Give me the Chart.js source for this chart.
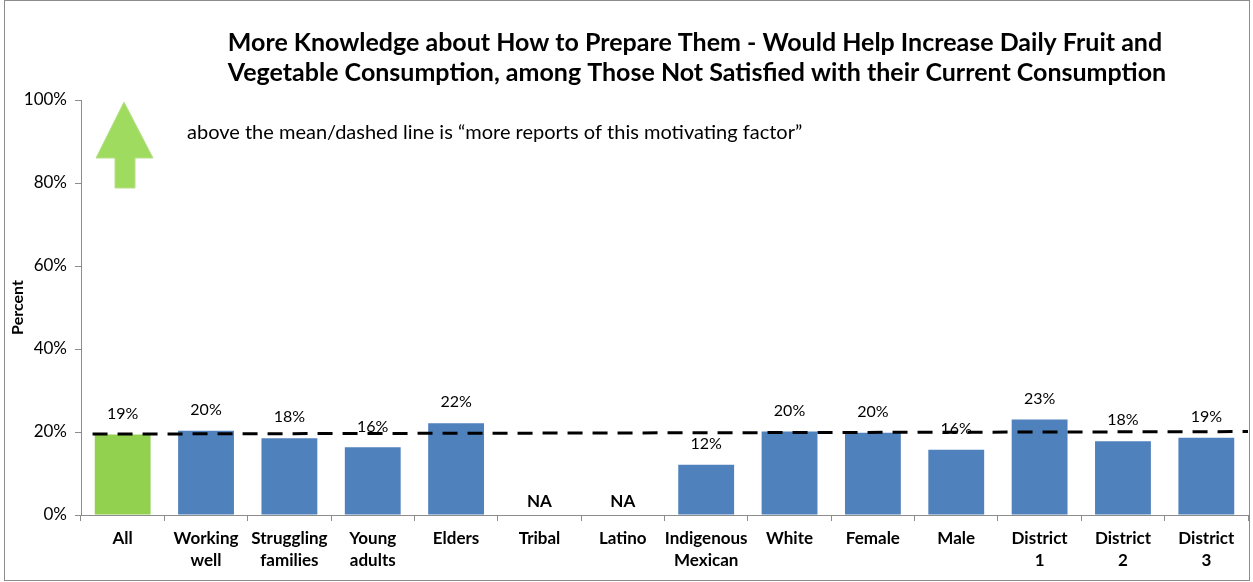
<!DOCTYPE html>
<html>
<head>
<meta charset="utf-8">
<script src="https://cdn.jsdelivr.net/npm/chart.js@4.4.1/dist/chart.umd.min.js"></script>
<style>
html, body { margin: 0; padding: 0; background: #fff; }
canvas { display: block; }
</style>
</head>
<body>
<canvas id="myChart" width="1253" height="582"></canvas>
<script>
'use strict'
let groups = [['All'], ['Working', 'well'], ['Struggling', 'families'], ['Young', 'adults'], ['Elders'], ['Tribal'], ['Latino'],
  ['Indigenous', 'Mexican'], ['White'], ['Female'], ['Male'], ['District', '1'], ['District', '2'], ['District', '3']];
let percents = [19.4, 20.3, 18.5, 16.3, 22.1, null, null, 12.1, 20.1, 19.8, 15.7, 23.0, 17.8, 18.6];
let pctLabels = ['19%', '20%', '18%', '16%', '22%', 'NA', 'NA', '12%', '20%', '20%', '16%', '23%', '18%', '19%'];
let meanLine = [19.5, 20.1];
let yTicks = [0, 20, 40, 60, 80, 100];
let titleLines = ['More Knowledge about How to Prepare Them - Would Help Increase Daily Fruit and',
  'Vegetable Consumption, among Those Not Satisfied with their Current Consumption'];
let noteText = 'above the mean/dashed line is \u201cmore reports of this motivating factor\u201d';

let green = '#92D050';
let blue = '#4F81BD';
let barColors = percents.map(function (v, i) { return i === 0 ? green : blue; });
let fontName = 'Lato, "Open Sans", sans-serif';

// title, frame, arrow and note
let decorPlugin = {
  id: 'decor',
  beforeDraw: function (chart) {
    let ctx = chart.ctx;
    ctx.save();
    ctx.strokeStyle = '#8c8c8c';
    ctx.lineWidth = 1;
    ctx.strokeRect(4.5, 0.5, 1245, 580);

    ctx.fillStyle = '#000';
    ctx.font = 'bold 25px ' + fontName;
    ctx.textAlign = 'center';
    ctx.textBaseline = 'middle';
    ctx.fillText(titleLines[0], 695, 43);
    ctx.fillText(titleLines[1], 697, 73);

    ctx.font = '20px ' + fontName;
    ctx.textAlign = 'left';
    ctx.fillText(noteText, 187, 133);

    // green up arrow
    ctx.fillStyle = '#9FDB5E';
    ctx.strokeStyle = '#b5e08a';
    ctx.beginPath();
    ctx.moveTo(124, 102);
    ctx.lineTo(153, 158);
    ctx.lineTo(135, 158);
    ctx.lineTo(135, 188);
    ctx.lineTo(115, 188);
    ctx.lineTo(115, 158);
    ctx.lineTo(96, 158);
    ctx.closePath();
    ctx.fill();
    ctx.stroke();
    ctx.restore();
  }
};

// value labels above bars
let labelPlugin = {
  id: 'barLabels',
  afterDatasetsDraw: function (chart) {
    let ctx = chart.ctx;
    let meta = chart.getDatasetMeta(0);
    let yScale = chart.scales.y;
    ctx.save();
    ctx.fillStyle = '#000';
    ctx.textAlign = 'center';
    ctx.textBaseline = 'middle';
    meta.data.forEach(function (bar, i) {
      if (percents[i] === null) {
        ctx.font = 'bold 17px ' + fontName;
        ctx.fillText(pctLabels[i], bar.x, yScale.getPixelForValue(0) - 13);
      } else {
        ctx.font = '16px ' + fontName;
        ctx.fillText(pctLabels[i], bar.x, bar.y - 21);
      }
    });
    ctx.restore();
  }
};

let ctx = document.getElementById('myChart').getContext('2d');
let myChart = new Chart(ctx, {
  type: 'bar',
  data: {
    labels: groups,
    datasets: [{
      type: 'bar',
      data: percents,
      backgroundColor: barColors,
      borderWidth: 0,
      grouped: false,
      categoryPercentage: 0.67,
      barPercentage: 1,
      order: 2
    },
    {
      type: 'line',
      xAxisID: 'xm',
      data: [{ x: 0, y: meanLine[0] }, { x: 1, y: meanLine[1] }],
      borderColor: '#000',
      borderWidth: 3,
      borderDash: [15, 10],
      pointRadius: 0,
      fill: false,
      order: 1
    }]
  },
  options: {
    responsive: false,
    animation: false,
    layout: { padding: { left: 4, right: 5, top: 100, bottom: 0 } },
    plugins: {
      legend: { display: false },
      tooltip: { enabled: false }
    },
    scales: {
      x: {
        grid: { display: true, drawOnChartArea: false, offset: true, color: '#8c8c8c', tickLength: 6 },
        border: { color: '#8c8c8c' },
        ticks: { color: '#000', font: { family: fontName, size: 17, weight: 'bold', lineHeight: 1.3 }, maxRotation: 0, autoSkip: false, padding: 6 },
        afterFit: function (scale) { scale.height = 67; }
      },
      xm: {
        type: 'linear',
        display: false,
        offset: false,
        min: -0.01,
        max: 1
      },
      y: {
        min: 0,
        max: 100,
        afterBuildTicks: function (scale) { scale.ticks = yTicks.map(function (v) { return { value: v }; }); },
        grid: { display: true, drawOnChartArea: false, color: '#8c8c8c', tickLength: 6 },
        border: { color: '#8c8c8c' },
        ticks: { color: '#000', font: { family: fontName, size: 17 }, padding: 8, callback: function (v) { return v + '%'; } },
        title: { display: true, text: 'Percent', color: '#000', font: { family: fontName, size: 16, weight: 'bold' }, padding: 4 },
        afterFit: function (scale) { scale.width = 77; }
      }
    }
  },
  plugins: [decorPlugin, labelPlugin]
});
</script>
</body>
</html>
